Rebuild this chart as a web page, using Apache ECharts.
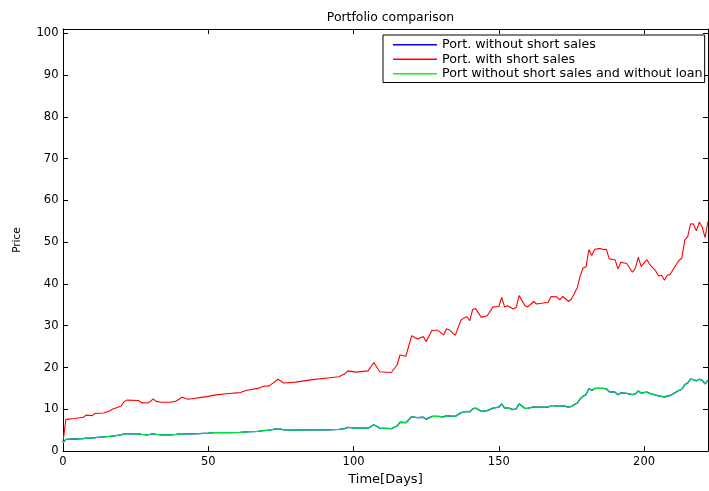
<!DOCTYPE html>
<html>
<head>
<meta charset="utf-8">
<style>
  html, body { margin: 0; padding: 0; background: #fff; }
  #chart { width: 709px; height: 491px; }
</style>
<script src="https://cdn.jsdelivr.net/npm/echarts@6/dist/echarts.min.js"></script>
</head>
<body>
<div id="chart"></div>
<script>
// Trading days at which the portfolio values are recorded
const days = [0, 1, 4, 7, 8, 10, 11, 14, 16, 17, 20, 21, 22, 26, 27, 29, 30, 31, 32, 34,
  37, 39, 41, 43, 45, 47, 50, 52, 57, 61, 63, 67, 69, 71, 74, 76, 80, 86, 91, 95,
  97, 98, 101, 105, 107, 109, 113, 115, 116, 118, 120, 122, 124, 125, 127, 129, 131, 132, 133, 135,
  137, 139, 140, 141, 142, 144, 146, 148, 150, 151, 152, 153, 155, 156, 157, 159, 160, 162, 163, 167,
  168, 170, 171, 172, 174, 175, 177, 178, 179, 180, 181, 182, 183, 185, 186, 187, 188, 190, 191, 192,
  194, 196, 197, 198, 199, 201, 202, 204, 205, 206, 207, 208, 209, 211, 212, 213, 214, 215, 216, 217,
  218, 219, 220, 221, 222];

// Portfolio allowing short sales
const withShort = [2.2, 7.6, 7.8, 8.1, 8.6, 8.5, 9.0, 9.1, 9.6, 10.0, 10.8, 11.8, 12.2, 12.1, 11.6, 11.5, 11.8, 12.5, 11.9, 11.7,
  11.7, 12.0, 12.9, 12.4, 12.6, 12.8, 13.1, 13.4, 13.8, 14.0, 14.5, 15.0, 15.5, 15.6, 17.2, 16.3, 16.5, 17.1, 17.5, 17.8,
  18.5, 19.2, 18.9, 19.2, 21.2, 19.0, 18.8, 20.6, 23.0, 22.7, 27.6, 26.8, 27.4, 26.2, 28.9, 28.9, 27.8, 29.3, 29.0, 27.7,
  31.4, 32.2, 31.2, 33.9, 34.1, 32.0, 32.4, 34.5, 34.6, 36.8, 34.5, 34.8, 34.0, 34.4, 37.2, 34.8, 34.5, 35.8, 35.2, 35.6,
  37.0, 36.9, 36.2, 37.0, 35.8, 36.4, 39.1, 41.9, 43.8, 44.1, 48.2, 46.8, 48.3, 48.5, 48.2, 48.3, 46.0, 45.8, 43.6, 45.2,
  44.9, 42.8, 43.8, 46.4, 44.2, 45.8, 44.6, 43.1, 41.9, 42.1, 40.9, 42.1, 42.3, 44.6, 45.6, 46.2, 50.5, 51.3, 54.4, 54.3,
  52.7, 54.8, 53.6, 51.1, 55.0];

// Portfolio without short sales (the loan-free variant follows the same path)
const withoutShort = [2.0, 2.8, 2.9, 3.0, 3.1, 3.1, 3.2, 3.4, 3.5, 3.6, 3.9, 4.1, 4.2, 4.1, 4.0, 3.9, 4.0, 4.2, 4.0, 3.9,
  3.9, 4.0, 4.2, 4.1, 4.1, 4.2, 4.3, 4.4, 4.4, 4.5, 4.6, 4.7, 4.9, 5.0, 5.4, 5.1, 5.0, 5.1, 5.1, 5.2,
  5.4, 5.7, 5.5, 5.5, 6.3, 5.5, 5.4, 6.0, 6.9, 6.8, 8.2, 8.0, 8.1, 7.6, 8.3, 8.3, 8.2, 8.5, 8.4, 8.3,
  9.2, 9.5, 9.4, 10.1, 10.3, 9.5, 9.7, 10.3, 10.5, 11.3, 10.3, 10.4, 9.9, 10.1, 11.3, 10.2, 10.2, 10.6, 10.5, 10.5,
  10.9, 10.8, 10.7, 10.9, 10.5, 10.7, 11.5, 12.5, 13.1, 13.5, 15.0, 14.5, 15.0, 15.0, 15.0, 14.9, 14.2, 14.1, 13.5, 13.9,
  13.8, 13.5, 13.7, 14.4, 13.9, 14.1, 13.8, 13.4, 13.2, 13.1, 12.9, 13.2, 13.3, 14.1, 14.5, 14.8, 15.9, 16.3, 17.2, 17.1,
  16.8, 17.2, 16.9, 16.1, 17.0];
const withoutShortNoLoan = withoutShort.slice();

const seriesNames = ['Port. without short sales', 'Port. with short sales', 'Port without short sales and without loan'];
const xTicks = [0, 50, 100, 150, 200];
const yTicks = [0, 10, 20, 30, 40, 50, 60, 70, 80, 90, 100];

const pairs = vals => days.map((d, i) => [d, vals[i]]);
const FONT = '"DejaVu Sans", Helvetica, Arial, sans-serif';

const chart = echarts.init(document.getElementById('chart'), null, { renderer: 'canvas' });

const baseX = {
  type: 'value', min: 0, max: 222,
  axisLine: { onZero: false, lineStyle: { color: '#000', width: 1 } },
  axisTick: { inside: true, length: 5, customValues: xTicks, lineStyle: { color: '#000' } },
  splitLine: { show: false }
};
const baseY = {
  type: 'value', min: 0, max: 101,
  axisLine: { onZero: false, lineStyle: { color: '#000', width: 1 } },
  axisTick: { inside: true, length: 5, customValues: yTicks, lineStyle: { color: '#000' } },
  splitLine: { show: false }
};

chart.setOption({
  animation: false,
  backgroundColor: '#fff',
  title: {
    text: 'Portfolio comparison',
    left: 385.5, top: 7, textAlign: 'center',
    textStyle: { fontFamily: FONT, fontSize: 12.4, fontWeight: 'normal', color: '#000' }
  },
  grid: { left: 63, right: 1, top: 29, bottom: 33.5 },
  legend: {
    data: seriesNames,
    orient: 'vertical',
    left: 383, top: 35,
    padding: [3, 2, 2, 10],
    itemGap: 1,
    itemWidth: 44, itemHeight: 1.5,
    icon: 'rect',
    borderColor: '#000', borderWidth: 1,
    backgroundColor: '#fff',
    textStyle: { fontFamily: FONT, fontSize: 12.7, color: '#000', lineHeight: 13.5 }
  },
  xAxis: [
    Object.assign({}, baseX, {
      position: 'bottom',
      name: 'Time[Days]', nameLocation: 'middle', nameGap: 19,
      nameTextStyle: { fontFamily: FONT, fontSize: 13, color: '#000' },
      axisLabel: { customValues: xTicks, margin: 5, fontFamily: FONT, fontSize: 11.5, color: '#000' }
    }),
    Object.assign({}, baseX, { position: 'top', axisLabel: { show: false } })
  ],
  yAxis: [
    Object.assign({}, baseY, {
      position: 'left',
      name: 'Price', nameLocation: 'middle', nameGap: 40,
      nameTextStyle: { fontFamily: FONT, fontSize: 10.5, color: '#000' },
      axisLabel: { customValues: yTicks, margin: 4.5, fontFamily: FONT, fontSize: 11.5, color: '#000' }
    }),
    Object.assign({}, baseY, { position: 'right', axisLabel: { show: false } })
  ],
  series: [
    {
      name: seriesNames[0], type: 'line', data: pairs(withoutShort),
      symbol: 'none', itemStyle: { color: '#0000ff' },
      lineStyle: { color: '#0000ff', width: 1.3 }, z: 2
    },
    {
      name: seriesNames[1], type: 'line', data: pairs(withShort),
      symbol: 'none', itemStyle: { color: '#ff0000' },
      lineStyle: { color: '#ff0000', width: 1.1 }, z: 3
    },
    {
      name: seriesNames[2], type: 'line', data: pairs(withoutShortNoLoan),
      symbol: 'none', itemStyle: { color: '#00ff00' },
      lineStyle: { color: '#00e040', width: 1.2 }, z: 4
    }
  ]
});
</script>
</body>
</html>
